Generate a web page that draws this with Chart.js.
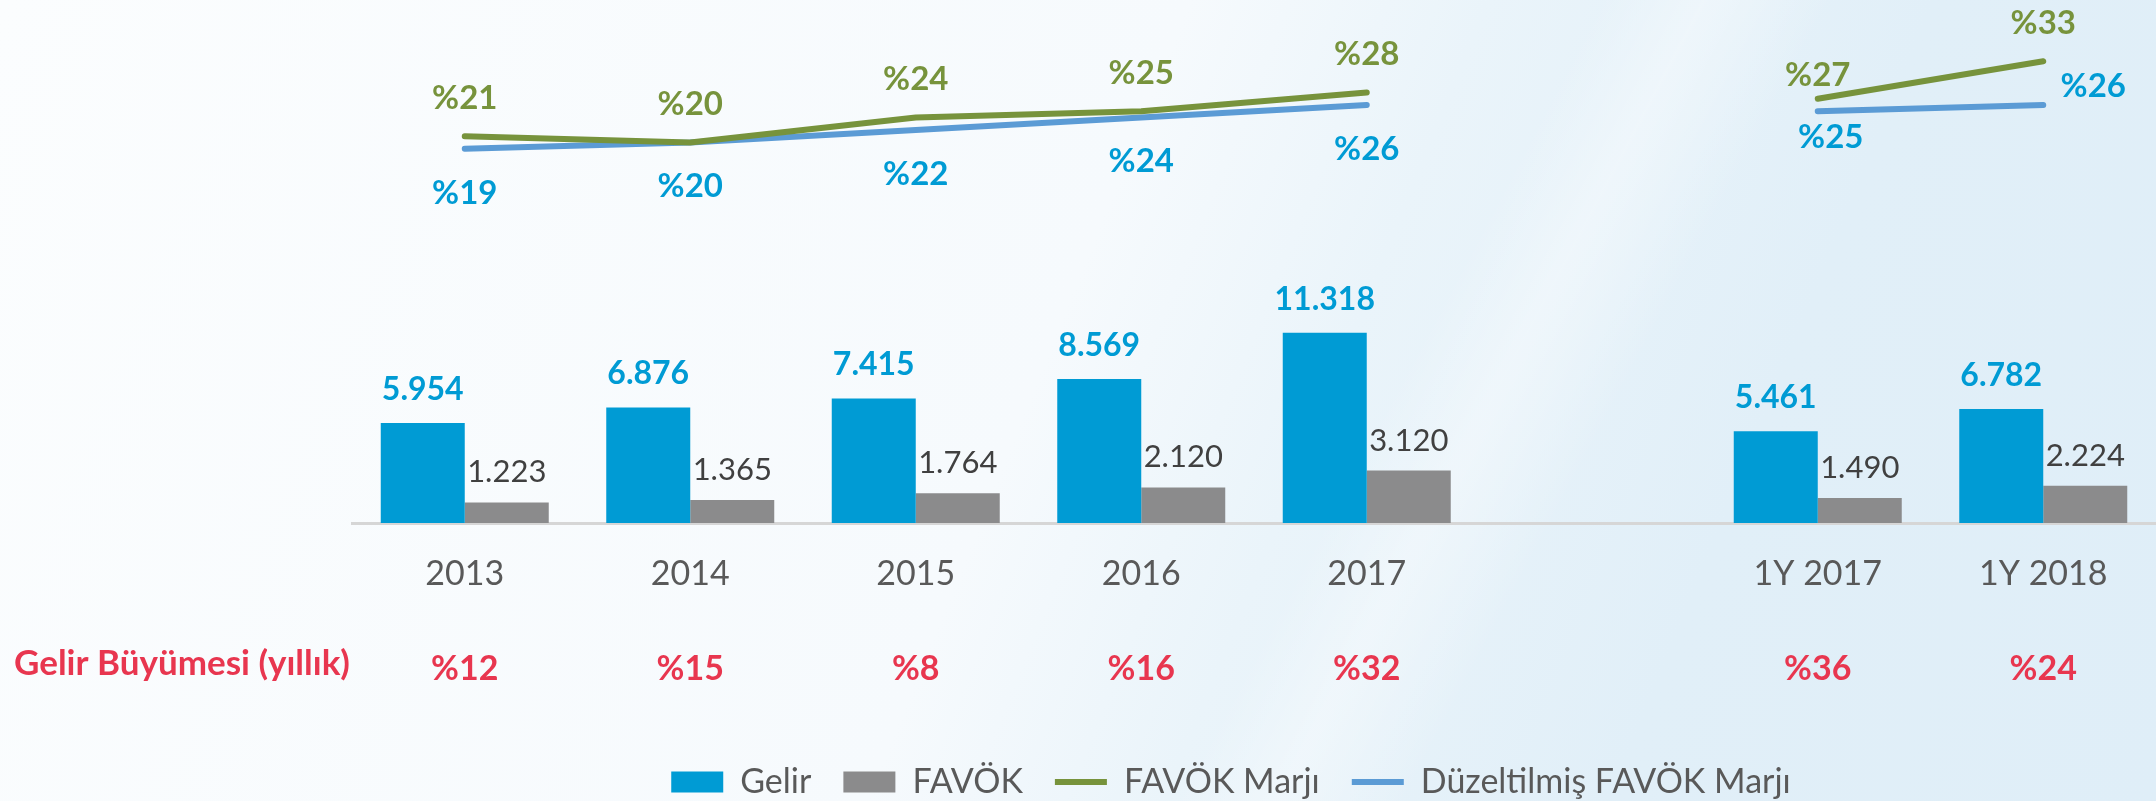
<!DOCTYPE html>
<html lang="tr">
<head>
<meta charset="utf-8">
<title>Gelir ve FAVÖK</title>
<script src="https://cdn.jsdelivr.net/npm/chart.js@4.4.1/dist/chart.umd.min.js"></script>
<style>
  html, body { margin: 0; padding: 0; }
  body {
    width: 2156px;
    height: 801px;
    overflow: hidden;
    background:
      linear-gradient(118deg, rgba(255,255,255,0) 62%, rgba(255,255,255,0.35) 66%, rgba(255,255,255,0) 71%),
      linear-gradient(112deg, #fbfdfe 0%, #f6fafd 48%, #eaf4fa 60%, #e1eff8 78%, #dfeef8 100%);
  }
  #wrap { position: relative; width: 2156px; height: 801px; }
</style>
</head>
<body>
<div id="wrap"><canvas id="gelirChart" width="2156" height="801"></canvas></div>
<script>
// yıllık ve ilk yarı (1Y) rakamları, milyon TL
const categories = ['2013', '2014', '2015', '2016', '2017', '', '1Y 2017', '1Y 2018'];
const gelir = [5954, 6876, 7415, 8569, 11318, null, 5461, 6782];
const favok = [1223, 1365, 1764, 2120, 3120, null, 1490, 2224];
const favokMarji = [21, 20, 24, 25, 28, null, 27, 33];
const duzeltilmisMarj = [19, 20, 22, 24, 26, null, 25, 26];
const gelirBuyumesi = [12, 15, 8, 16, 32, null, 36, 24];

const FONT = 'Lato, "Open Sans", sans-serif';
const BLUE = '#009BD4';
const GREY = '#8B8B8C';
const GREEN = '#77933C';
const LINE_BLUE = '#5B9BD5';
const RED = '#E8364F';

const fmtNumber = v => String(v).replace(/\B(?=(\d{3})+(?!\d))/g, '.');
const fmtPct = v => '%' + v;

// label text for every point; offsets are [dx, dy] of the text baseline
const valueLabels = {
    id: 'valueLabels',
    afterDatasetsDraw(chart) {
        const ctx = chart.ctx;
        chart.data.datasets.forEach((ds, di) => {
            const meta = chart.getDatasetMeta(di);
            meta.data.forEach((el, i) => {
                const v = ds.data[i];
                if (v == null) return;
                const off = (ds.labelOffsets && ds.labelOffsets[i]) || ds.labelOffset;
                ctx.save();
                ctx.font = ds.labelFont;
                ctx.fillStyle = ds.labelColor;
                ctx.textAlign = 'center';
                ctx.textBaseline = 'alphabetic';
                ctx.fillText(ds.labelFormat(v), el.x + off[0], el.y + off[1]);
                ctx.restore();
            });
        });
    }
};

// revenue growth row under the category axis
const growthRow = {
    id: 'growthRow',
    afterDraw(chart) {
        const ctx = chart.ctx;
        const x = chart.scales.x;
        ctx.save();
        ctx.fillStyle = RED;
        ctx.textBaseline = 'alphabetic';
        ctx.font = 'bold 35px ' + FONT;
        ctx.textAlign = 'left';
        ctx.fillText('Gelir Büyümesi (yıllık)', 14, 675);
        ctx.font = 'bold 34px ' + FONT;
        ctx.textAlign = 'center';
        gelirBuyumesi.forEach((v, i) => {
            if (v == null) return;
            ctx.fillText(fmtPct(v), x.getPixelForValue(i), 680);
        });
        ctx.restore();
    }
};

new Chart(document.getElementById('gelirChart'), {
    type: 'bar',
    data: {
        labels: categories,
        datasets: [
            {
                type: 'line',
                label: 'FAVÖK Marjı',
                data: favokMarji,
                yAxisID: 'y2',
                borderColor: GREEN,
                backgroundColor: GREEN,
                borderWidth: 6,
                borderCapStyle: 'round',
                borderJoinStyle: 'round',
                pointRadius: 0,
                pointStyle: 'line',
                spanGaps: false,
                order: 1,
                labelFont: 'bold 33px ' + FONT,
                labelColor: GREEN,
                labelFormat: fmtPct,
                labelOffset: [0, -27],
                labelOffsets: [null, null, null, null, null, null, [0, -13], null]
            },
            {
                type: 'line',
                label: 'Düzeltilmiş FAVÖK Marjı',
                data: duzeltilmisMarj,
                yAxisID: 'y2',
                borderColor: LINE_BLUE,
                backgroundColor: LINE_BLUE,
                borderWidth: 6,
                borderCapStyle: 'round',
                borderJoinStyle: 'round',
                pointRadius: 0,
                pointStyle: 'line',
                spanGaps: false,
                order: 2,
                labelFont: 'bold 33px ' + FONT,
                labelColor: BLUE,
                labelFormat: fmtPct,
                labelOffset: [0, 55],
                labelOffsets: [null, null, null, null, null, null, [13, 37], [50, -8]]
            },
            {
                label: 'Gelir',
                data: gelir,
                yAxisID: 'y',
                backgroundColor: BLUE,
                borderWidth: 0,
                pointStyle: 'rect',
                categoryPercentage: 0.745,
                barPercentage: 1.0,
                order: 3,
                labelFont: 'bold 32px ' + FONT,
                labelColor: BLUE,
                labelFormat: fmtNumber,
                labelOffset: [0, -23]
            },
            {
                label: 'FAVÖK',
                data: favok,
                yAxisID: 'y',
                backgroundColor: GREY,
                borderWidth: 0,
                pointStyle: 'rect',
                categoryPercentage: 0.745,
                barPercentage: 1.0,
                order: 4,
                labelFont: '31px ' + FONT,
                labelColor: '#404040',
                labelFormat: fmtNumber,
                labelOffset: [0, -20]
            }
        ]
    },
    options: {
        responsive: false,
        animation: false,
        layout: { padding: { top: 10, left: 306, right: 0, bottom: -8 } },
        plugins: {
            tooltip: { enabled: false },
            legend: {
                position: 'bottom',
                fullSize: true,
                labels: {
                    usePointStyle: true,
                    pointStyleWidth: 52,
                    boxHeight: 21,
                    padding: 32,
                    color: '#595959',
                    font: { family: FONT, size: 34 },
                    sort: (a, b) => [2, 3, 0, 1].indexOf(a.datasetIndex) - [2, 3, 0, 1].indexOf(b.datasetIndex)
                }
            }
        },
        scales: {
            x: {
                grid: { display: false, drawTicks: false },
                border: { display: true, color: '#D6D6D6', width: 3 },
                ticks: {
                    color: '#595959',
                    font: { family: FONT, size: 34 },
                    padding: 31,
                    maxRotation: 0,
                    autoSkip: false
                },
                afterFit: scale => { scale.height = 210; }
            },
            // bar axis is kept invisible; its fixed width sets where the plot starts
            y: {
                display: true,
                min: 0,
                max: 30536,
                grid: { display: false, drawTicks: false },
                border: { display: false },
                ticks: { display: false },
                afterFit: scale => { scale.width = 46; }
            },
            y2: { display: false, min: -40.9, max: 41.2 }
        }
    },
    plugins: [valueLabels, growthRow]
});
</script>
</body>
</html>
